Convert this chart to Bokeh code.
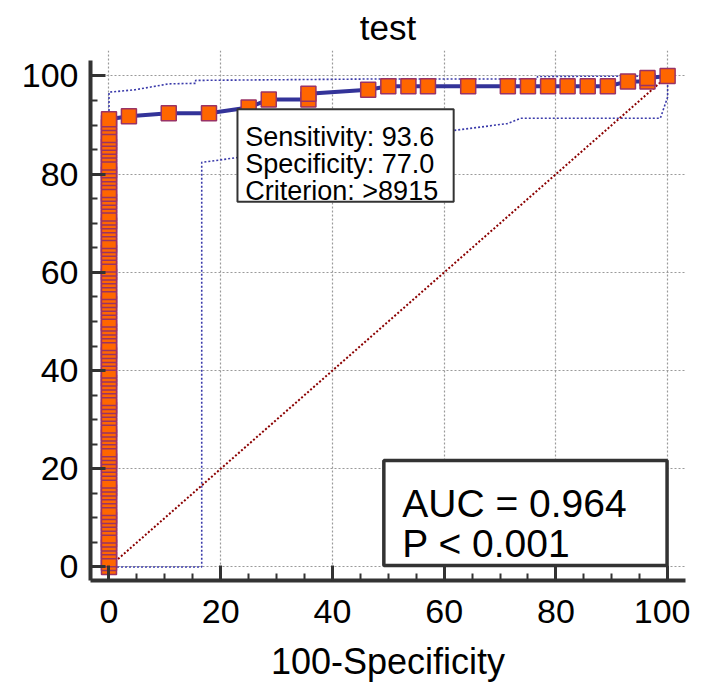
from bokeh.plotting import figure
from bokeh.models import Range1d, SingleIntervalTicker, BoxAnnotation, Label, ColumnDataSource
from bokeh.embed import file_html
from bokeh.resources import INLINE

# ---- data ----
# sensitivity values of the points stacked at 100-Specificity = 0
stack_sens = [0, 0.8, 1.6, 3.2, 4.0, 4.8, 5.6, 6.4, 8.0, 8.8, 9.6, 10.4, 11.2, 12.0,
              13.6, 14.4, 15.2, 16.0, 16.8, 17.6, 19.2, 20.0, 20.8, 21.6, 22.4, 23.2,
              24.0, 25.6, 26.4, 27.2, 28.0, 28.8, 30.4, 31.2, 32.0, 32.8, 33.6, 34.4,
              36.0, 36.8, 37.6, 38.4, 39.2, 40.0, 41.6, 42.4, 43.2, 44.0, 44.8, 45.6,
              47.2, 48.0, 48.8, 49.6, 50.4, 52.0, 52.8, 53.6, 54.4, 55.2, 56.0, 57.6,
              58.4, 59.2, 60.0, 60.8, 61.6, 63.2, 64.0, 64.8, 65.6, 66.4, 68.0, 68.8,
              69.6, 70.4, 71.2, 72.0, 73.6, 74.4, 75.2, 76.0, 76.8, 78.4, 79.2, 80.0,
              80.8, 81.6, 82.4, 84.0, 84.8, 85.6, 86.4, 87.2, 88.0, 89.6, 90.4, 91.2]
# remaining ROC points
curve_fpr = [3.57, 10.7, 17.9, 25.0, 28.6, 35.7, 35.7, 46.4, 50.0, 53.6, 57.1, 64.3,
             71.4, 75.0, 78.6, 82.1, 85.7, 89.3, 92.9, 96.4, 96.4, 100.0]
curve_sens = [91.8, 92.4, 92.4, 93.6, 95.2, 95.2, 96.4, 97.2, 97.9, 97.9, 97.9, 97.9,
              97.9, 97.9, 97.9, 97.9, 97.9, 97.9, 98.9, 98.9, 99.6, 100.0]

# 95% confidence bounds
upper_x = [0, 0, 4.7, 10.7, 15.5, 15.5, 48.6, 76.7, 76.7, 100]
upper_y = [0, 96.7, 97.2, 98.4, 98.5, 99.1, 99.4, 99.4, 99.9, 100]
lower_x = [0, 16.6, 16.6, 40, 55, 61.7, 71.3, 73.7, 98.7, 100, 100]
lower_y = [0, 0, 82.4, 86, 88.5, 88.9, 90.3, 91.4, 91.4, 95.7, 100]

diag_x = [0, 100]
diag_y = [0, 100]

title_text = "test"
x_label_text = "100-Specificity"
info_lines = ["Sensitivity: 93.6", "Specificity: 77.0", "Criterion: >8915"]
auc_lines = ["AUC = 0.964", "P < 0.001"]

roc_x = [0.0 for _ in stack_sens] + curve_fpr
roc_y = stack_sens + curve_sens

FONT = "Liberation Sans"
AX = "#333333"

p = figure(width=690, height=684, output_backend="svg", toolbar_location=None,
           x_range=Range1d(-3.31, 103.2), y_range=Range1d(-2.75, 105.19),
           min_border_left=90, min_border_right=5, min_border_top=50,
           min_border_bottom=101, title=title_text)
p.outline_line_color = None
p.background_fill_color = "white"
p.border_fill_color = "white"

p.title.align = "center"
p.title.text_font = FONT
p.title.text_font_size = "35px"
p.title.text_font_style = "normal"
p.title.text_color = "black"
p.title.standoff = 8

for ax in (p.xaxis[0], p.yaxis[0]):
    ax.ticker = SingleIntervalTicker(interval=20, num_minor_ticks=4)
    ax.axis_line_width = 4
    ax.axis_line_color = AX
    ax.major_tick_in = 15
    ax.major_tick_out = 0
    ax.major_tick_line_width = 3
    ax.major_tick_line_color = AX
    ax.minor_tick_in = 7
    ax.minor_tick_out = 0
    ax.minor_tick_line_width = 2
    ax.minor_tick_line_color = AX
    ax.major_label_text_font = FONT
    ax.major_label_text_font_size = "34px"
    ax.major_label_text_color = "black"

p.yaxis.bounds = (-3.3, 103.16)
p.yaxis.major_label_standoff = 12
p.xaxis.major_label_standoff = 19

p.xaxis.axis_label = x_label_text
p.xaxis.axis_label_text_font = FONT
p.xaxis.axis_label_text_font_size = "36px"
p.xaxis.axis_label_text_font_style = "normal"
p.xaxis.axis_label_text_color = "black"
p.xaxis.axis_label_standoff = 15

p.grid.grid_line_color = "#9a9a9a"
p.grid.grid_line_dash = "2 2"
p.grid.grid_line_width = 1.2
p.grid.minor_grid_line_color = None

p.line(upper_x, upper_y, line_color="#3a3aaa", line_dash="2 2", line_width=1.6)
p.line(lower_x, lower_y, line_color="#3a3aaa", line_dash="2 2", line_width=1.6)
p.line(diag_x, diag_y, line_color="#8b0000", line_dash="2 2", line_width=2)

src = ColumnDataSource(dict(x=roc_x, y=roc_y))
p.line("x", "y", source=src, line_color="#333399", line_width=4)
p.scatter("x", "y", source=src, marker="square", size=15, fill_color="#ff6600",
          line_color="#993366", line_width=1.5)

# info box
p.add_layout(BoxAnnotation(left=23.0, right=61.7, bottom=74.4, top=93.2,
                           fill_color="white", fill_alpha=1.0,
                           line_color=AX, line_alpha=1.0, line_width=2))
for i, t in enumerate(info_lines):
    p.add_layout(Label(x=24.4, y=87.5 - i * 5.5, text=t, text_font=FONT,
                       text_font_size="27px", text_color="black",
                       text_baseline="alphabetic", text_align="left"))

# AUC box
p.add_layout(BoxAnnotation(left=49.2, right=99.9, bottom=0.3, top=21.7,
                           fill_color="white", fill_alpha=1.0,
                           line_color=AX, line_alpha=1.0, line_width=3.5))
for i, t in enumerate(auc_lines):
    p.add_layout(Label(x=52.5, y=12.9 - i * 8.2, text=t, text_font=FONT,
                       text_font_size="39px", text_color="black",
                       text_baseline="alphabetic", text_align="left"))

open("out.html", "w").write(file_html(p, INLINE))
